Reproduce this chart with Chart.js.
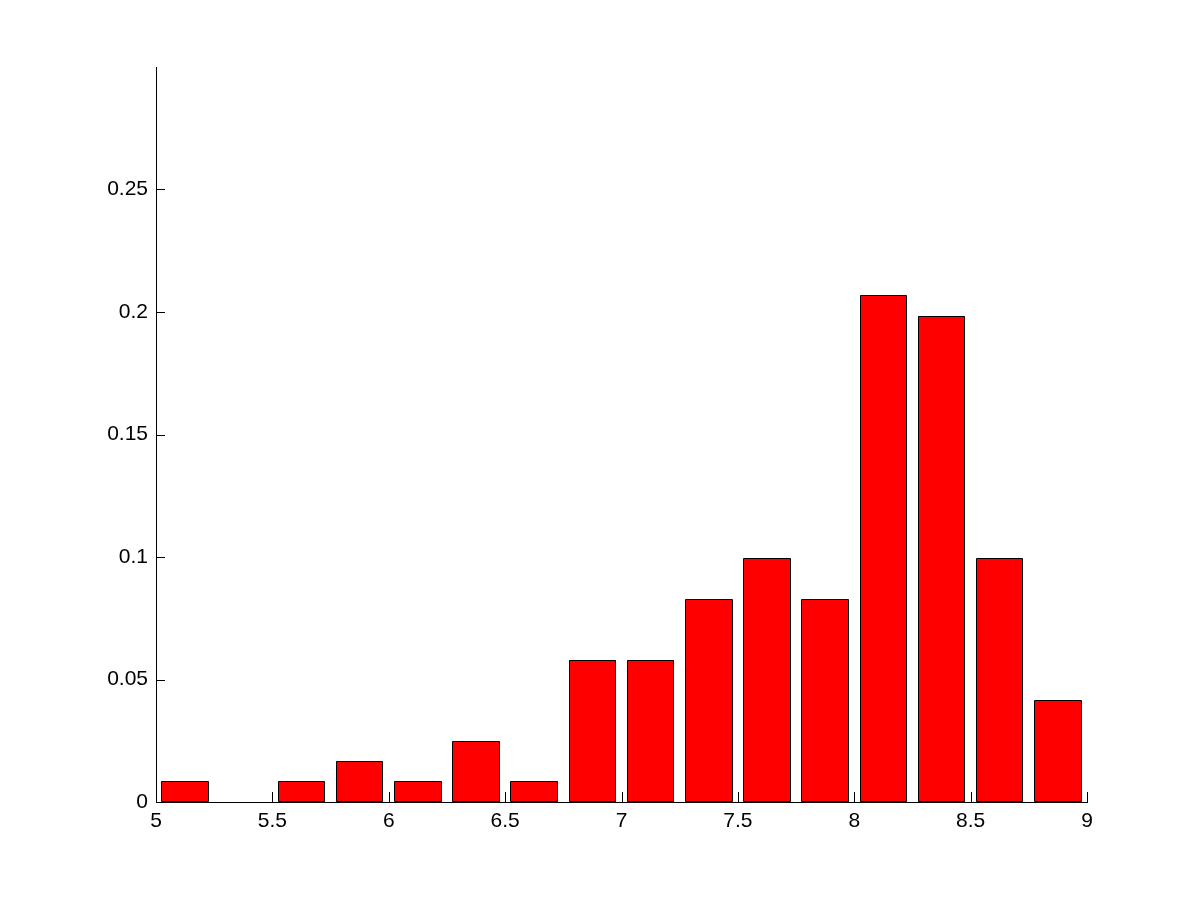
<!DOCTYPE html>
<html><head><meta charset="utf-8">
<script src="https://cdn.jsdelivr.net/npm/chart.js@4"></script>
<style>html,body{margin:0;padding:0;background:#fff;} canvas{display:block;}</style>
</head><body>
<canvas id="c" width="1201" height="901"></canvas>
<script>
const binCenters = [5.125,5.375,5.625,5.875,6.125,6.375,6.625,6.875,7.125,7.375,7.625,7.875,8.125,8.375,8.625,8.875];
const frequencies = [0.0083,0,0.0083,0.0165,0.0083,0.0248,0.0083,0.0579,0.0579,0.0826,0.0992,0.0826,0.2066,0.1983,0.0992,0.0413];
const xTickValues = [5,5.5,6,6.5,7,7.5,8,8.5,9];
const xTickLabels = ['5','5.5','6','6.5','7','7.5','8','8.5','9'];
const yTickValues = [0,0.05,0.1,0.15,0.2,0.25];
const yTickLabels = ['0','0.05','0.1','0.15','0.2','0.25'];

// crisp black outlines on the library's bar elements, plus inward tick marks
const crispOutlinesAndTicks = {
  id: 'crispOutlinesAndTicks',
  afterDatasetsDraw(chart) {
    const {ctx, chartArea, scales} = chart;
    const x = scales.x, y = scales.y;
    ctx.save();
    ctx.strokeStyle = '#000';
    ctx.lineWidth = 1;
    ctx.beginPath();
    chart.getDatasetMeta(0).data.forEach(bar => {
      const p = bar.getProps(['x', 'y', 'base', 'width'], true);
      if (Math.abs(p.base - p.y) < 0.5) return;
      const l = Math.floor(p.x - p.width / 2) + 0.5;
      const r = Math.ceil(p.x + p.width / 2) - 0.5;
      const t = Math.floor(p.y) + 0.5;
      const b = Math.round(p.base) - 0.5;
      ctx.rect(l, t, r - l, b - t);
    });
    ctx.stroke();
    ctx.beginPath();
    xTickValues.forEach(v => {
      const px = Math.round(x.getPixelForValue(v)) + 0.5;
      ctx.moveTo(px, chartArea.bottom);
      ctx.lineTo(px, chartArea.bottom - 10);
    });
    yTickValues.forEach(v => {
      const py = Math.round(y.getPixelForValue(v)) + 0.5;
      ctx.moveTo(chartArea.left, py);
      ctx.lineTo(chartArea.left + 9, py);
    });
    ctx.stroke();
    ctx.restore();
  }
};

const font = {family: "'Liberation Sans', Arial, Helvetica, sans-serif", size: 21};

new Chart(document.getElementById('c'), {
  type: 'bar',
  data: {
    datasets: [{
      data: binCenters.map((c, i) => ({x: c, y: frequencies[i]})),
      backgroundColor: '#ff0000',
      borderWidth: 0,
      inflateAmount: 0,
      barPercentage: 0.8,
      categoryPercentage: 1.0
    }]
  },
  options: {
    responsive: false,
    animation: false,
    layout: {padding: {left: 0, top: 67, right: 114, bottom: 0}},
    plugins: {legend: {display: false}, tooltip: {enabled: false}},
    scales: {
      x: {
        type: 'linear',
        min: 5, max: 9,
        offset: false,
        grid: {display: true, drawOnChartArea: false, drawTicks: false},
        border: {display: true, color: '#000', width: 1},
        afterBuildTicks: s => { s.ticks = xTickValues.map(v => ({value: v})); },
        afterFit: s => { s.height = 99; },
        ticks: {
          color: '#000', font: font, padding: 7, maxRotation: 0, autoSkip: false,
          callback: (v, i) => xTickLabels[i]
        }
      },
      y: {
        type: 'linear',
        min: 0, max: 0.3,
        grid: {display: true, drawOnChartArea: false, drawTicks: false},
        border: {display: true, color: '#000', width: 1},
        afterBuildTicks: s => { s.ticks = yTickValues.map(v => ({value: v})); },
        afterFit: s => { s.width = 156; },
        ticks: {
          color: '#000', font: font, padding: 8, autoSkip: false,
          callback: (v, i) => yTickLabels[i]
        }
      }
    }
  },
  plugins: [crispOutlinesAndTicks]
});
</script>
</body></html>
